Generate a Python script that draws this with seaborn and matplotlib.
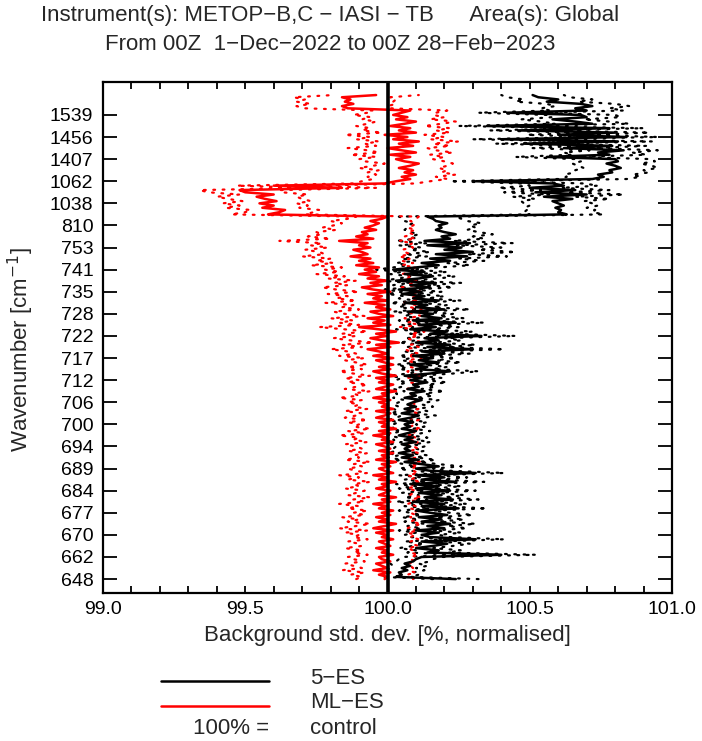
import numpy as np
import pandas as pd
import matplotlib
matplotlib.use("Agg")
import matplotlib.pyplot as plt
from matplotlib.lines import Line2D
from matplotlib.ticker import MultipleLocator
import seaborn as sns

# ---------------- data ----------------
tick_labels = ['648', '662', '670', '677', '684', '689', '694', '700', '706', '712', '717',
               '722', '728', '735', '741', '753', '810', '1038', '1062', '1407', '1456', '1539']
channels_per_tick = 10

# 5-ES mean (channel order, bottom to top)
es5_mean = [
    100.24, 100.03, 100.05, 100.04, 100.07, 100.05, 100.08, 100.06, 100.09, 100.10,
    100.12, 100.40, 100.14, 100.18, 100.10, 100.16, 100.21, 100.12, 100.31, 100.15,
    100.12, 100.18, 100.10, 100.20, 100.14, 100.22, 100.12, 100.19, 100.11, 100.21,
    100.15, 100.10, 100.25, 100.12, 100.20, 100.09, 100.23, 100.13, 100.19, 100.11,
    100.22, 100.10, 100.18, 100.08, 100.24, 100.12, 100.20, 100.10, 100.31, 100.15,
    100.10, 100.18, 100.12, 100.06, 100.11, 100.05, 100.09, 100.04, 100.08, 100.06,
    100.08, 100.05, 100.10, 100.06, 100.09, 100.04, 100.07, 100.10, 100.05, 100.08,
    100.06, 100.09, 100.04, 100.08, 100.11, 100.05, 100.09, 100.06, 100.10, 100.07,
    100.09, 100.12, 100.06, 100.10, 100.08, 100.13, 100.07, 100.11, 100.09, 100.14,
    100.08, 100.12, 100.06, 100.15, 100.22, 100.10, 100.14, 100.08, 100.18, 100.11,
    100.16, 100.09, 100.20, 100.12, 100.30, 100.14, 100.22, 100.10, 100.18, 100.13,
    100.33, 100.15, 100.21, 100.08, 100.17, 100.11, 100.24, 100.09, 100.19, 100.12,
    100.16, 100.07, 100.20, 100.10, 100.14, 100.06, 100.18, 100.09, 100.13, 100.05,
    100.12, 100.04, 100.15, 100.08, 100.17, 100.03, 100.11, 100.16, 100.06, 100.13,
    100.02, 100.10, 100.18, 100.12, 100.22, 100.15, 100.28, 100.17, 100.30, 100.20,
    100.26, 100.14, 100.29, 100.13, 100.22, 100.19, 100.24, 100.20, 100.17, 100.19,
    100.18, 100.21, 100.17, 100.16, 100.14, 100.63, 100.60, 100.61, 100.59, 100.62,
    100.60, 100.58, 100.65, 100.55, 100.70, 100.52, 100.66, 100.50, 100.62, 100.58,
    100.31, 100.72, 100.76, 100.74, 100.79, 100.78, 100.82, 100.80, 100.77, 100.81,
    100.80, 100.56, 100.78, 100.74, 100.83, 100.62, 100.79, 100.48, 100.81, 100.40,
    100.84, 100.60, 100.80, 100.46, 100.78, 100.35, 100.72, 100.66, 100.58, 100.70,
    100.68, 100.42, 100.70, 100.66, 100.72, 100.68, 100.56, 100.60, 100.53, 100.51,
]
# 5-ES confidence half-width
es5_err = [
    0.08, 0.05, 0.06, 0.05, 0.06, 0.05, 0.06, 0.05, 0.06, 0.06,
    0.07, 0.12, 0.07, 0.08, 0.06, 0.07, 0.08, 0.06, 0.10, 0.07,
    0.06, 0.08, 0.06, 0.08, 0.07, 0.09, 0.06, 0.08, 0.06, 0.09,
    0.07, 0.06, 0.10, 0.06, 0.08, 0.06, 0.09, 0.07, 0.08, 0.06,
    0.09, 0.06, 0.08, 0.05, 0.10, 0.06, 0.08, 0.06, 0.10, 0.07,
    0.06, 0.08, 0.06, 0.05, 0.06, 0.05, 0.05, 0.04, 0.05, 0.04,
    0.05, 0.04, 0.05, 0.04, 0.05, 0.04, 0.05, 0.05, 0.04, 0.05,
    0.04, 0.05, 0.04, 0.05, 0.06, 0.04, 0.05, 0.04, 0.06, 0.05,
    0.05, 0.06, 0.04, 0.06, 0.05, 0.07, 0.05, 0.06, 0.05, 0.07,
    0.05, 0.07, 0.05, 0.08, 0.10, 0.06, 0.07, 0.05, 0.08, 0.06,
    0.08, 0.05, 0.09, 0.06, 0.11, 0.07, 0.09, 0.06, 0.08, 0.07,
    0.12, 0.07, 0.09, 0.05, 0.08, 0.06, 0.10, 0.05, 0.08, 0.06,
    0.07, 0.05, 0.09, 0.06, 0.07, 0.05, 0.08, 0.05, 0.07, 0.05,
    0.07, 0.05, 0.08, 0.06, 0.09, 0.05, 0.07, 0.08, 0.05, 0.08,
    0.06, 0.08, 0.11, 0.09, 0.12, 0.10, 0.14, 0.11, 0.15, 0.12,
    0.14, 0.10, 0.15, 0.10, 0.12, 0.11, 0.13, 0.12, 0.11, 0.12,
    0.11, 0.12, 0.11, 0.10, 0.10, 0.13, 0.12, 0.12, 0.11, 0.12,
    0.12, 0.11, 0.13, 0.11, 0.13, 0.11, 0.12, 0.11, 0.12, 0.11,
    0.09, 0.12, 0.13, 0.12, 0.13, 0.12, 0.13, 0.13, 0.12, 0.13,
    0.13, 0.11, 0.13, 0.12, 0.12, 0.11, 0.12, 0.10, 0.12, 0.10,
    0.11, 0.11, 0.12, 0.10, 0.12, 0.10, 0.13, 0.12, 0.11, 0.12,
    0.12, 0.10, 0.13, 0.12, 0.13, 0.12, 0.11, 0.12, 0.11, 0.11,
]
# ML-ES mean
mles_mean = [
    99.99, 100.00, 99.97, 100.01, 99.95, 100.00, 99.98, 99.96, 100.01, 99.98,
    99.97, 100.02, 99.98, 100.00, 99.96, 100.01, 99.99, 99.97, 100.02, 99.98,
    100.00, 99.96, 100.02, 99.95, 99.99, 100.03, 99.97, 100.00, 99.96, 100.01,
    99.98, 100.02, 99.97, 100.00, 99.95, 100.01, 99.98, 100.03, 99.97, 99.99,
    100.01, 99.96, 100.00, 99.98, 100.03, 99.97, 100.00, 99.95, 100.02, 99.99,
    99.97, 100.01, 99.98, 100.03, 99.96, 100.00, 99.98, 100.02, 99.97, 100.01,
    99.99, 99.96, 100.02, 99.98, 100.00, 99.95, 100.01, 99.97, 100.03, 99.98,
    100.00, 99.97, 100.02, 99.96, 99.99, 100.01, 99.96, 100.02, 99.98, 100.00,
    99.97, 100.01, 99.95, 100.00, 99.98, 100.03, 99.96, 99.99, 100.02, 99.97,
    100.00, 99.96, 100.03, 99.98, 99.95, 100.01, 99.97, 100.02, 99.99, 99.96,
    100.02, 99.95, 100.00, 99.97, 99.93, 100.01, 99.96, 100.04, 99.98, 99.94,
    100.00, 99.96, 100.03, 99.97, 99.90, 100.01, 99.95, 99.99, 99.93, 100.02,
    99.97, 99.94, 100.01, 99.96, 99.99, 99.92, 100.00, 99.95, 99.98, 99.93,
    100.01, 99.95, 99.91, 99.98, 99.94, 100.00, 99.93, 99.97, 99.90, 99.96,
    99.92, 99.97, 99.89, 99.95, 99.90, 99.94, 99.87, 99.93, 99.91, 99.88,
    99.94, 99.90, 99.93, 99.83, 99.95, 99.89, 99.93, 99.91, 99.96, 99.92,
    99.95, 99.97, 99.94, 99.98, 100.00, 99.58, 99.62, 99.64, 99.56, 99.60,
    99.55, 99.61, 99.57, 99.54, 99.60, 99.50, 99.48, 99.84, 99.60, 99.99,
    100.03, 100.08, 100.05, 100.10, 100.06, 100.09, 100.04, 100.08, 100.11, 100.06,
    100.03, 100.08, 100.01, 100.10, 100.05, 100.00, 100.09, 100.04, 100.11, 100.02,
    100.07, 99.99, 100.10, 100.04, 100.08, 100.01, 100.06, 100.10, 100.03, 100.07,
    100.02, 100.05, 100.08, 99.86, 99.84, 99.88, 99.85, 99.87, 99.84, 99.96,
]
# ML-ES confidence half-width
mles_err = [
    0.10, 0.09, 0.10, 0.09, 0.11, 0.09, 0.10, 0.11, 0.09, 0.10,
    0.11, 0.09, 0.10, 0.09, 0.11, 0.10, 0.09, 0.11, 0.09, 0.10,
    0.10, 0.11, 0.09, 0.12, 0.10, 0.09, 0.11, 0.10, 0.12, 0.09,
    0.10, 0.09, 0.11, 0.10, 0.12, 0.09, 0.10, 0.09, 0.11, 0.10,
    0.09, 0.11, 0.10, 0.10, 0.09, 0.11, 0.10, 0.12, 0.09, 0.10,
    0.11, 0.10, 0.10, 0.09, 0.11, 0.10, 0.10, 0.09, 0.11, 0.10,
    0.10, 0.11, 0.09, 0.10, 0.10, 0.12, 0.09, 0.11, 0.09, 0.10,
    0.10, 0.11, 0.09, 0.11, 0.10, 0.10, 0.11, 0.09, 0.10, 0.10,
    0.11, 0.10, 0.12, 0.10, 0.10, 0.09, 0.11, 0.10, 0.09, 0.11,
    0.10, 0.11, 0.09, 0.10, 0.12, 0.10, 0.11, 0.09, 0.10, 0.11,
    0.10, 0.12, 0.11, 0.11, 0.13, 0.10, 0.12, 0.09, 0.11, 0.13,
    0.11, 0.12, 0.10, 0.12, 0.14, 0.11, 0.12, 0.11, 0.13, 0.10,
    0.12, 0.13, 0.11, 0.12, 0.11, 0.14, 0.11, 0.13, 0.12, 0.14,
    0.11, 0.13, 0.14, 0.12, 0.13, 0.11, 0.14, 0.12, 0.15, 0.13,
    0.14, 0.13, 0.16, 0.14, 0.15, 0.14, 0.17, 0.15, 0.15, 0.17,
    0.15, 0.17, 0.16, 0.21, 0.15, 0.17, 0.16, 0.16, 0.14, 0.15,
    0.14, 0.13, 0.14, 0.12, 0.11, 0.13, 0.12, 0.12, 0.13, 0.12,
    0.13, 0.12, 0.13, 0.14, 0.12, 0.13, 0.14, 0.12, 0.13, 0.11,
    0.12, 0.13, 0.12, 0.14, 0.13, 0.12, 0.14, 0.13, 0.12, 0.14,
    0.13, 0.12, 0.14, 0.13, 0.12, 0.14, 0.13, 0.12, 0.14, 0.13,
    0.13, 0.14, 0.12, 0.13, 0.14, 0.12, 0.13, 0.14, 0.12, 0.13,
    0.14, 0.12, 0.13, 0.15, 0.16, 0.15, 0.17, 0.16, 0.17, 0.15,
]

series_names = ['5\u2212ES', 'ML\u2212ES']
series_colors = ['black', 'red']
control_value = 100.0

# ---------------- figure ----------------
sns.set_theme(style="white")
plt.rcParams['font.family'] = ['Liberation Sans', 'DejaVu Sans']

W, H = 702, 741
fig = plt.figure(figsize=(W / 100, H / 100), dpi=100)
ax = fig.add_axes([103 / W, (H - 593) / H, 569 / W, 511 / H])

chan = np.arange(len(es5_mean))
FS_TICK = 14
FS = 16

for mean, err, col in [(es5_mean, es5_err, 'black'), (mles_mean, mles_err, 'red')]:
    m = np.asarray(mean)
    e = np.asarray(err)
    for bound in (m - e, m + e):
        sns.lineplot(x=bound, y=chan, orient='y', sort=True, estimator=None, ax=ax,
                     color=col, lw=1.6, linestyle=(0, (0.8, 3.4)),
                     dash_capstyle='round', zorder=2)
    sns.lineplot(x=m, y=chan, orient='y', sort=True, estimator=None, ax=ax,
                 color=col, lw=1.8, zorder=3)

ax.axvline(control_value, color='black', lw=2.6, zorder=4)

ax.set_xlim(99.0, 101.0)
ax.set_ylim(-6.3, 224.9)
ax.set_xticks([99.0, 99.5, 100.0, 100.5, 101.0])
ax.set_xticklabels(['99.0', '99.5', '100.0', '100.5', '101.0'], fontsize=FS_TICK)
ax.xaxis.set_minor_locator(MultipleLocator(0.1))
ax.set_yticks(np.arange(len(tick_labels)) * channels_per_tick)
ax.set_yticklabels(tick_labels, fontsize=FS_TICK)
ax.tick_params(axis='x', which='both', direction='in', length=5, width=1.3,
               top=True, bottom=True, pad=6, colors='black')
ax.tick_params(axis='y', which='major', direction='in', length=10, width=1.3,
               left=True, right=True, pad=7, colors='black')
for s in ax.spines.values():
    s.set_linewidth(1.6)
    s.set_color('black')

ax.set_xlabel('Background std. dev. [%, normalised]', fontsize=FS)
ax.xaxis.set_label_coords(0.5, (593 - 625) / 511)
ax.set_ylabel('Wavenumber [cm$^{-1}$]', fontsize=FS)
ax.yaxis.set_label_coords((36 - 103) / 569, (593 - 350) / 511)
ax.grid(False)

# titles
fig.text(330 / W, 1 - 16 / H,
         'Instrument(s): METOP\u2212B,C \u2212 IASI \u2212 TB      Area(s): Global',
         ha='center', va='center', fontsize=FS)
fig.text(330 / W, 1 - 45 / H,
         'From 00Z  1\u2212Dec\u22122022 to 00Z 28\u2212Feb\u22122023',
         ha='center', va='center', fontsize=FS)

# legend
leg_rows = [(681, 678), (706, 702)]
for (ly, ty), name, col in zip(leg_rows, series_names, series_colors):
    fig.add_artist(Line2D([161 / W, 269 / W], [1 - ly / H] * 2, color=col, lw=1.8))
    fig.text(310 / W, 1 - ty / H, name, ha='left', va='center', fontsize=FS)
fig.text(269 / W, 1 - 729 / H, '100% =', ha='right', va='center', fontsize=FS)
fig.text(310 / W, 1 - 729 / H, 'control', ha='left', va='center', fontsize=FS)

fig.savefig('out.png', dpi=100)
